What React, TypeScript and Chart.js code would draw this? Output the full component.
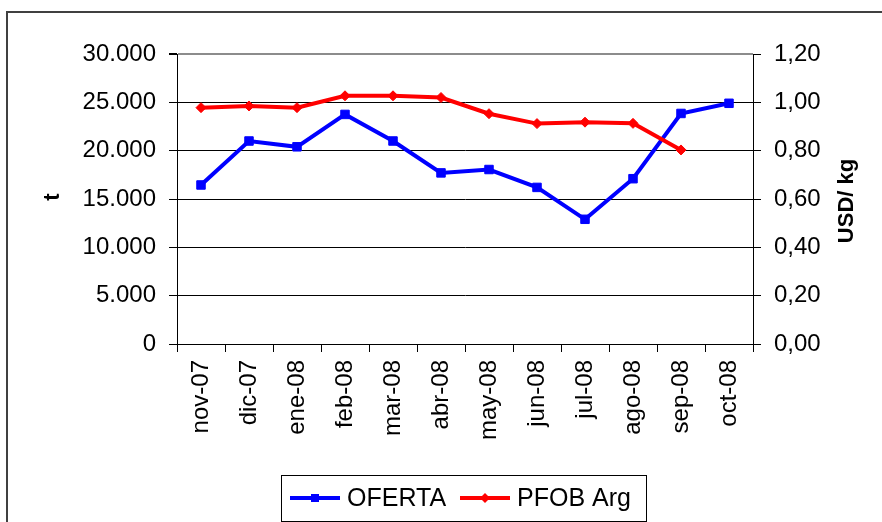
import React, { useEffect, useRef } from "react";
import { Chart, registerables } from "chart.js";

Chart.register(...registerables);

const categories = ["nov-07", "dic-07", "ene-08", "feb-08", "mar-08", "abr-08", "may-08", "jun-08", "jul-08", "ago-08", "sep-08", "oct-08"];
const oferta = [16450, 21000, 20400, 23750, 21000, 17700, 18050, 16200, 12900, 17100, 23850, 24900];
const pfobArg = [0.978, 0.985, 0.978, 1.027, 1.027, 1.02, 0.953, 0.912, 0.918, 0.913, 0.803, null];
const seriesNames = ["OFERTA", "PFOB Arg"];
const leftTitle = "t";
const rightTitle = "USD/ kg";

const FONT = "'Liberation Sans', Arial, sans-serif";
const BLUE = "#0000FF";
const RED = "#FF0000";

const fmtThousands = (v: number) => String(Math.round(v)).replace(/\B(?=(\d{3})+(?!\d))/g, ".");
const fmtComma = (v: number) => v.toFixed(2).replace(".", ",");

const decorPlugin = {
  id: "decor",
  afterDraw(chart: any) {
    const ctx = chart.ctx;
    const area = chart.chartArea;
    ctx.save();
    // outer frame
    ctx.strokeStyle = "#404040";
    ctx.lineWidth = 2;
    ctx.beginPath();
    ctx.moveTo(7, 522);
    ctx.lineTo(7, 12);
    ctx.lineTo(882, 12);
    ctx.stroke();

    // axis titles
    ctx.fillStyle = "#000";
    ctx.font = `bold 22px ${FONT}`;
    ctx.textAlign = "center";
    ctx.textBaseline = "alphabetic";
    const cy = (area.top + area.bottom) / 2;
    ctx.save();
    ctx.translate(59, cy - 2);
    ctx.rotate(-Math.PI / 2);
    ctx.fillText(leftTitle, 0, 0);
    ctx.restore();
    ctx.save();
    ctx.translate(853, cy + 2);
    ctx.rotate(-Math.PI / 2);
    ctx.fillText(rightTitle, 0, 0);
    ctx.restore();

    // legend
    const lx = 281, ly = 475, lw = 365, lh = 46;
    ctx.fillStyle = "#fff";
    ctx.fillRect(lx, ly, lw, lh);
    ctx.strokeStyle = "#000";
    ctx.lineWidth = 1;
    ctx.strokeRect(lx + 0.5, ly + 0.5, lw, lh);
    const my = 498;
    // blue item
    ctx.strokeStyle = BLUE;
    ctx.lineWidth = 4;
    ctx.beginPath();
    ctx.moveTo(290, my);
    ctx.lineTo(340, my);
    ctx.stroke();
    ctx.fillStyle = BLUE;
    ctx.fillRect(315 - 4, my - 4, 8, 8);
    // red item
    ctx.strokeStyle = RED;
    ctx.beginPath();
    ctx.moveTo(460, my);
    ctx.lineTo(510, my);
    ctx.stroke();
    ctx.fillStyle = RED;
    ctx.beginPath();
    ctx.moveTo(485, my - 5);
    ctx.lineTo(490, my);
    ctx.lineTo(485, my + 5);
    ctx.lineTo(480, my);
    ctx.closePath();
    ctx.fill();
    ctx.fillStyle = "#000";
    ctx.font = `25px ${FONT}`;
    ctx.textAlign = "left";
    ctx.textBaseline = "alphabetic";
    ctx.fillText(seriesNames[0], 347, 506);
    ctx.fillText(seriesNames[1], 517, 506);
    ctx.restore();
  },
};

export default function App() {
  const ref = useRef<HTMLCanvasElement | null>(null);
  useEffect(() => {
    if (!ref.current) return;
    const chart = new Chart(ref.current, {
      type: "line",
      data: {
        labels: categories,
        datasets: [
          {
            label: seriesNames[0],
            data: oferta,
            yAxisID: "y",
            borderColor: BLUE,
            backgroundColor: BLUE,
            borderWidth: 4,
            pointStyle: "rect",
            pointRadius: 6,
            pointBorderWidth: 1,
            pointBorderColor: BLUE,
            pointBackgroundColor: BLUE,
            tension: 0,
            order: 1,
          },
          {
            label: seriesNames[1],
            data: pfobArg,
            yAxisID: "y1",
            borderColor: RED,
            backgroundColor: RED,
            borderWidth: 4,
            pointStyle: "rectRot",
            pointRadius: 5,
            pointBorderWidth: 1,
            pointBorderColor: RED,
            pointBackgroundColor: RED,
            tension: 0,
            order: 0,
          },
        ],
      },
      options: {
        responsive: false,
        maintainAspectRatio: false,
        animation: false,
        devicePixelRatio: 1,
        layout: { padding: { top: 54, left: 0, right: 0, bottom: 0 } },
        plugins: { legend: { display: false }, tooltip: { enabled: false }, title: { display: false } },
        scales: {
          x: {
            type: "category",
            offset: true,
            grid: { display: true, drawOnChartArea: false, drawTicks: true, tickLength: 8, color: "#000", tickColor: "#000", offset: true },
            border: { display: true, color: "#000", width: 1 },
            ticks: { autoSkip: false, minRotation: 90, maxRotation: 90, padding: 8, color: "#000", font: { family: FONT, size: 24 } },
            afterFit(scale: any) { scale.height = 178; },
          },
          y: {
            position: "left",
            min: 0,
            max: 30000,
            ticks: { stepSize: 5000, padding: 13, color: "#000", font: { family: FONT, size: 24 }, callback: (v: any) => fmtThousands(Number(v)) },
            grid: {
              color: (c: any) => (c.tick && c.tick.value === 30000 ? "#8c8c8c" : "#000"),
              lineWidth: (c: any) => (c.tick && c.tick.value === 30000 ? 2 : 1),
              tickColor: "#000",
              tickLength: 8,
              drawTicks: true,
            },
            border: { display: true, color: "#000", width: 1 },
            afterFit(scale: any) { scale.width = 177; },
          },
          y1: {
            position: "right",
            min: 0,
            max: 1.2,
            ticks: { stepSize: 0.2, padding: 13, color: "#000", font: { family: FONT, size: 24 }, callback: (v: any) => fmtComma(Number(v)) },
            grid: { drawOnChartArea: false, tickColor: "#000", tickLength: 8, drawTicks: true, color: "#000" },
            border: { display: true, color: "#000", width: 1 },
            afterFit(scale: any) { scale.width = 129; },
          },
        },
      },
      plugins: [decorPlugin],
    });
    return () => chart.destroy();
  }, []);
  return (
    <div style={{ position: "absolute", left: 0, top: 0, width: 882, height: 522, background: "#fff" }}>
      <canvas ref={ref} width={882} height={522} style={{ display: "block" }} />
    </div>
  );
}
